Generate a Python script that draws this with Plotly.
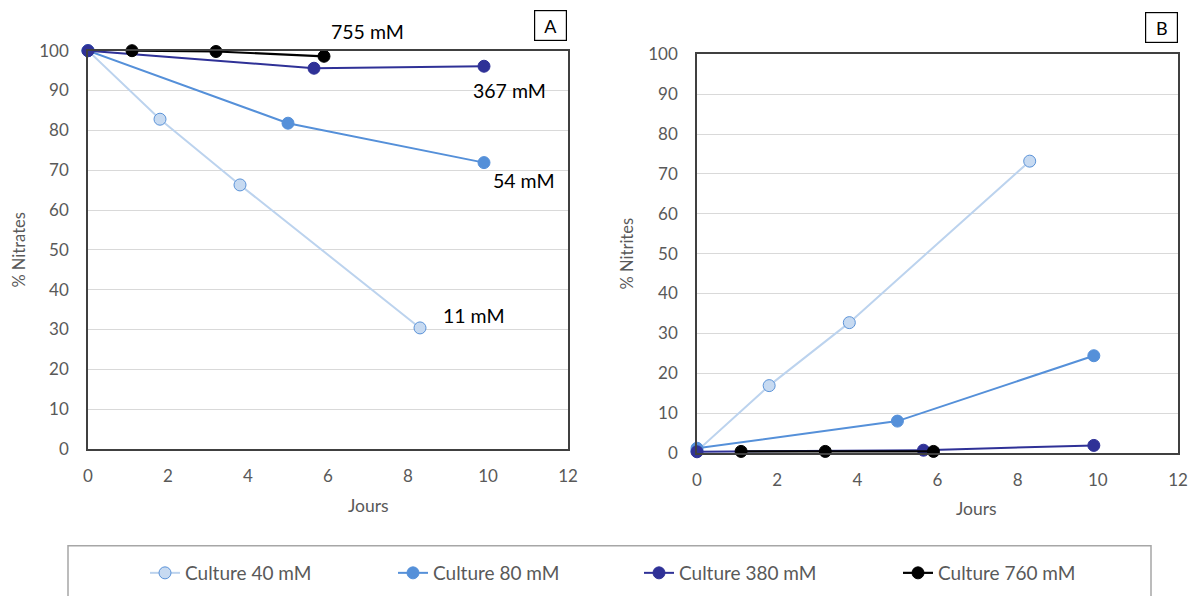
import plotly.graph_objects as go

W, H = 1195, 596

# ---------------- data ----------------
series_names = ["Culture 40 mM", "Culture 80 mM", "Culture 380 mM", "Culture 760 mM"]

# Panel A : % Nitrates
a40_x = [0, 1.8, 3.8, 8.3]
a40_y = [100, 82.8, 66.3, 30.4]
a80_x = [0, 5.0, 9.9]
a80_y = [100, 81.8, 71.9]
a380_x = [0, 5.65, 9.9]
a380_y = [100, 95.6, 96.1]
a760_x = [1.1, 3.2, 5.9]
a760_y = [100, 99.8, 98.6]

# Panel B : % Nitrites
b40_x = [0, 1.8, 3.8, 8.3]
b40_y = [0.5, 16.9, 32.7, 73.2]
b80_x = [0, 5.0, 9.9]
b80_y = [1.2, 8.0, 24.4]
b380_x = [0, 5.65, 9.9]
b380_y = [0.3, 0.7, 1.9]
b760_x = [1.1, 3.2, 5.9]
b760_y = [0.4, 0.4, 0.4]

end_labels = ["11 mM", "54 mM", "367 mM", "755 mM"]

x_ticks = [0, 2, 4, 6, 8, 10, 12]
y_ticks = [0, 10, 20, 30, 40, 50, 60, 70, 80, 90, 100]

# ---------------- styles ----------------
FONT = "Lato"
GREY = "#595959"
line_colors = ["#bcd3ee", "#5590d9", "#2f3197", "#000000"]
marker_fill = ["#c7daf1", "#5590d9", "#2f3197", "#000000"]
marker_edge = ["#5b93d8", "#5590d9", "#2f3197", "#000000"]
line_widths = [2, 2, 2, 2.2]
end_label_px = [(474, 315), (524, 181), (509, 90), (367, 31.5)]


def px_x(p):
    return p / W


def px_y(p):
    return 1 - p / H


fig = go.Figure()

A = [(a40_x, a40_y), (a80_x, a80_y), (a380_x, a380_y), (a760_x, a760_y)]
B = [(b40_x, b40_y), (b80_x, b80_y), (b380_x, b380_y), (b760_x, b760_y)]
legend_ids = ["legend", "legend2", "legend3", "legend4"]

for i, (xs, ys) in enumerate(A):
    fig.add_trace(go.Scatter(
        x=xs, y=ys, mode="lines+markers", name=series_names[i],
        line=dict(color=line_colors[i], width=line_widths[i]),
        marker=dict(size=12, color=marker_fill[i],
                    line=dict(color=marker_edge[i], width=1)),
        cliponaxis=False, xaxis="x", yaxis="y",
        legend=legend_ids[i], showlegend=True))

for i, (xs, ys) in enumerate(B):
    fig.add_trace(go.Scatter(
        x=xs, y=ys, mode="lines+markers", name=series_names[i],
        line=dict(color=line_colors[i], width=line_widths[i]),
        marker=dict(size=12, color=marker_fill[i],
                    line=dict(color=marker_edge[i], width=1)),
        cliponaxis=False, xaxis="x2", yaxis="y2", showlegend=False))

axis_common = dict(
    showline=True, linecolor="#404040", linewidth=1.5, mirror=True,
    ticks="", zeroline=False, automargin=False,
    tickfont=dict(family=FONT, size=17, color=GREY),
)

xa = dict(axis_common, range=[0, 12], tickvals=x_ticks, showgrid=False,
          ticklabelstandoff=11)
ya = dict(axis_common, range=[0, 100], tickvals=y_ticks, showgrid=True,
          gridcolor="#d9d9d9", gridwidth=1, ticklabelstandoff=14)

legend_marker_px = [165, 413, 659, 918]
legend_cfg = {}
for i, lid in enumerate(legend_ids):
    legend_cfg[lid] = dict(
        x=px_x(legend_marker_px[i] - 20), xanchor="left",
        y=px_y(573), yanchor="middle",
        bgcolor="rgba(0,0,0,0)", borderwidth=0,
        font=dict(family=FONT, size=19, color=GREY),
        orientation="h")

fig.update_layout(
    template="none",
    width=W, height=H, autosize=False,
    margin=dict(l=0, r=0, t=0, b=0, pad=0),
    paper_bgcolor="white", plot_bgcolor="white",
    font=dict(family=FONT, color=GREY),
    xaxis=dict(xa, domain=[px_x(88), px_x(568)], anchor="y"),
    yaxis=dict(ya, domain=[px_y(449), px_y(50.7)], anchor="x",
               title=dict(text="% Nitrates", standoff=9,
                          font=dict(family=FONT, size=16.5, color=GREY))),
    xaxis2=dict(xa, domain=[px_x(697), px_x(1178)], anchor="y2"),
    yaxis2=dict(ya, domain=[px_y(453), px_y(54.3)], anchor="x2",
                title=dict(text="% Nitrites", standoff=10,
                           font=dict(family=FONT, size=16.5, color=GREY))),
    **legend_cfg,
)

annotations = []
# end labels in panel A
for t, (cx, cy) in zip(end_labels, end_label_px):
    annotations.append(dict(text=t, x=px_x(cx), y=px_y(cy), xref="paper", yref="paper",
                            showarrow=False, xanchor="center", yanchor="middle",
                            font=dict(family=FONT, size=19.5, color="black")))
# x axis titles
annotations.append(dict(text="Jours", x=px_x(368), y=px_y(505), xref="paper", yref="paper",
                        showarrow=False, xanchor="center", yanchor="middle",
                        font=dict(family=FONT, size=17.5, color=GREY)))
annotations.append(dict(text="Jours", x=px_x(976), y=px_y(508), xref="paper", yref="paper",
                        showarrow=False, xanchor="center", yanchor="middle",
                        font=dict(family=FONT, size=17.5, color=GREY)))
# panel letters
for t, cx, cy in [("A", 550, 26), ("B", 1161.5, 27.5)]:
    annotations.append(dict(text=t, x=px_x(cx), y=px_y(cy), xref="paper", yref="paper",
                            showarrow=False, xanchor="center", yanchor="middle",
                            width=29, height=27, borderpad=1,
                            bordercolor="#000000", borderwidth=1.2, bgcolor="white",
                            font=dict(family=FONT, size=18, color="black")))
fig.update_layout(annotations=annotations)

# legend frame
fig.add_shape(type="rect", xref="paper", yref="paper",
              x0=px_x(68), x1=px_x(1151), y0=px_y(620), y1=px_y(545.7),
              line=dict(color="#a6a6a6", width=1.5), fillcolor="rgba(0,0,0,0)",
              layer="below")

fig.write_html(
    "out.html",
    config={"displayModeBar": False},
    post_script="document.body.style.margin='0px';document.body.style.overflow='hidden';",
)
